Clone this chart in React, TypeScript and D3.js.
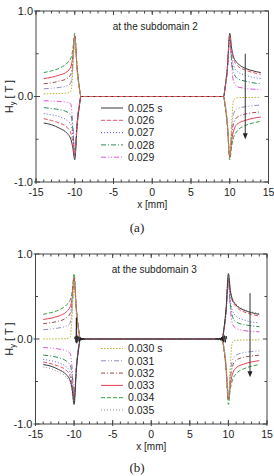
import React from "react";
import * as d3 from "d3";

const FONT = "'Liberation Sans', Arial, Helvetica, sans-serif";

// shared x sampling for the left edge (-14..-9.2) and the right edge (9.2..14)
const xLeft = [-14, -13, -12, -11, -10.5, -10.25, -10, -9.7, -9.4, -9.2];
const xRight = [9.2, 9.4, 9.7, 10, 10.25, 10.5, 11, 12, 13, 14];

const times = ["0.025", "0.026", "0.027", "0.028", "0.029", "0.030", "0.031", "0.032", "0.033", "0.034", "0.035"];
const colors = ["#3a3a3a", "#e8505a", "#5c5ce0", "#2e8b57", "#e050e0", "#b8b030", "#8c8cc0", "#a04848", "#e84050", "#30a040", "#909090"];
const dashes = ["", "4,2", "1,2", "5,2,1,2", "5,2,1,2,1,2", "1.5,1.5", "5,2,1,2,1,2", "4,2,1,2", "", "4,2", "1,2"];

// panel (a) values: left edge / right edge for 0.025 .. 0.034
const leftA = [
  [-0.31, -0.33, -0.37, -0.43, -0.5, -0.6, -0.74, -0.35, -0.11, 0],
  [-0.26, -0.28, -0.31, -0.36, -0.43, -0.53, -0.71, -0.34, -0.1, 0],
  [-0.2, -0.214, -0.236, -0.28, -0.33, -0.45, -0.7, -0.33, -0.1, 0],
  [-0.13, -0.14, -0.153, -0.18, -0.22, -0.38, -0.69, -0.32, -0.09, 0],
  [-0.05, -0.053, -0.058, -0.068, -0.09, -0.33, -0.68, -0.3, -0.08, 0],
  [0.03, 0.032, 0.035, 0.04, 0.06, 0.3, 0.68, 0.3, 0.08, 0],
  [0.09, 0.096, 0.106, 0.125, 0.16, 0.35, 0.7, 0.32, 0.09, 0],
  [0.15, 0.16, 0.18, 0.21, 0.26, 0.4, 0.7, 0.33, 0.1, 0],
  [0.21, 0.225, 0.25, 0.29, 0.35, 0.47, 0.71, 0.34, 0.1, 0],
  [0.28, 0.3, 0.33, 0.39, 0.45, 0.55, 0.74, 0.35, 0.11, 0],
];
const rightA = [
  [0, 0.11, 0.35, 0.74, 0.56, 0.46, 0.39, 0.33, 0.3, 0.28],
  [0, 0.1, 0.34, 0.72, 0.53, 0.43, 0.36, 0.31, 0.28, 0.26],
  [0, 0.1, 0.33, 0.71, 0.47, 0.36, 0.29, 0.25, 0.225, 0.21],
  [0, 0.1, 0.33, 0.7, 0.42, 0.28, 0.21, 0.18, 0.16, 0.15],
  [0, 0.09, 0.31, 0.69, 0.36, 0.17, 0.115, 0.095, 0.085, 0.08],
  [0, -0.08, -0.3, -0.68, -0.3, -0.04, -0.015, -0.012, -0.011, -0.01],
  [0, -0.09, -0.32, -0.69, -0.38, -0.2, -0.14, -0.12, -0.107, -0.1],
  [0, -0.1, -0.33, -0.7, -0.45, -0.31, -0.24, -0.205, -0.19, -0.18],
  [0, -0.1, -0.34, -0.71, -0.52, -0.4, -0.32, -0.28, -0.255, -0.24],
  [0, -0.11, -0.35, -0.74, -0.58, -0.48, -0.4, -0.34, -0.31, -0.29],
];

// panel (b) values: 0.025 .. 0.035
const leftB = [
  [-0.3, -0.32, -0.36, -0.42, -0.49, -0.59, -0.77, -0.36, -0.11, 0],
  [-0.27, -0.29, -0.32, -0.37, -0.44, -0.54, -0.72, -0.34, -0.1, 0],
  [-0.24, -0.255, -0.28, -0.33, -0.39, -0.5, -0.7, -0.33, -0.1, 0],
  [-0.19, -0.2, -0.22, -0.26, -0.31, -0.43, -0.7, -0.33, -0.09, 0],
  [-0.1, -0.107, -0.118, -0.14, -0.17, -0.35, -0.69, -0.31, -0.09, 0],
  [0.0, 0.0, 0.002, 0.005, 0.02, 0.28, 0.68, 0.3, 0.08, 0],
  [0.11, 0.117, 0.13, 0.153, 0.19, 0.37, 0.7, 0.32, 0.09, 0],
  [0.18, 0.193, 0.21, 0.25, 0.3, 0.43, 0.71, 0.33, 0.1, 0],
  [0.23, 0.245, 0.27, 0.32, 0.38, 0.49, 0.72, 0.34, 0.1, 0],
  [0.29, 0.31, 0.34, 0.4, 0.46, 0.56, 0.77, 0.36, 0.11, 0],
  [-0.33, -0.35, -0.39, -0.45, -0.52, -0.62, -0.76, -0.35, -0.11, 0],
];
const rightB = [
  [0, 0.11, 0.36, 0.77, 0.57, 0.47, 0.4, 0.34, 0.31, 0.29],
  [0, 0.1, 0.34, 0.72, 0.55, 0.45, 0.38, 0.32, 0.29, 0.27],
  [0, 0.1, 0.33, 0.71, 0.45, 0.34, 0.27, 0.225, 0.2, 0.19],
  [0, 0.1, 0.33, 0.7, 0.41, 0.27, 0.2, 0.17, 0.155, 0.145],
  [0, 0.09, 0.31, 0.69, 0.36, 0.18, 0.125, 0.1, 0.09, 0.086],
  [0, -0.08, -0.3, -0.68, -0.3, -0.04, -0.015, -0.012, -0.011, -0.01],
  [0, -0.09, -0.32, -0.69, -0.42, -0.26, -0.19, -0.16, -0.148, -0.14],
  [0, -0.1, -0.33, -0.7, -0.46, -0.33, -0.25, -0.215, -0.2, -0.19],
  [0, -0.1, -0.34, -0.71, -0.54, -0.42, -0.34, -0.295, -0.27, -0.255],
  [0, -0.11, -0.36, -0.77, -0.59, -0.49, -0.41, -0.35, -0.32, -0.3],
  [0, 0.11, 0.35, 0.76, 0.58, 0.48, 0.41, 0.35, 0.32, 0.3],
];

// small black numerical noise near the gap edges in panel (b)
const noiseLeftX = [-9.95, -9.85, -9.75, -9.7, -9.65, -9.6, -9.5, -9.4, -9.3, -9.2, -9.1, -9.0, -8.9, -8.8, -8.7, -8.6];
const noiseLeftY = [0, 0.03, -0.04, 0.25, -0.05, 0.04, -0.03, 0.03, -0.025, 0.02, -0.015, 0.012, -0.01, 0.008, -0.004, 0];
const noiseRightX = [8.3, 8.5, 8.7, 8.9, 9.0, 9.1, 9.2, 9.3, 9.4, 9.5, 9.6, 9.7, 9.8];
const noiseRightY = [0, 0.004, -0.008, 0.012, -0.016, 0.022, -0.025, 0.03, -0.035, 0.04, -0.04, 0.035, 0];

const legendA = [0, 1, 2, 3, 4];
const legendB = [5, 6, 7, 8, 9, 10];

const xMajor = [-15, -10, -5, 0, 5, 10, 15];
const xMinor = d3.range(-15, 15.01, 1);
const yMajor = [-1, 0, 1];
const yMinor = [-0.5, 0.5];

type PanelProps = {
  left: number; right: number; top: number; bottom: number;
  leftData: number[][]; rightData: number[][]; order: number[];
  legend: number[]; legendTop: number; title: string;
  arrowX: number; arrowY0: number; arrowY1: number; noise?: boolean;
  caption: string; captionY: number;
};

function Panel(p: PanelProps) {
  const xs = d3.scaleLinear().domain([-15, 15]).range([p.left, p.right]);
  const ys = d3.scaleLinear().domain([-1, 1]).range([p.bottom, p.top]);
  const line = d3.line<[number, number]>().x((d) => xs(d[0])).y((d) => ys(d[1])).curve(d3.curveMonotoneX);
  const lin = d3.line<[number, number]>().x((d) => xs(d[0])).y((d) => ys(d[1]));
  const cx = (p.left + p.right) / 2;
  const ax = xs(p.arrowX);
  const ay0 = ys(p.arrowY0);
  const ay1 = ys(p.arrowY1);
  return (
    <g>
      {p.order.map((i) => {
        const pts: [number, number][] = [
          ...xLeft.map((x, k) => [x, p.leftData[i][k]] as [number, number]),
          ...xRight.map((x, k) => [x, p.rightData[i][k]] as [number, number]),
        ];
        return (
          <path key={i} d={line(pts) || ""} fill="none" stroke={colors[i]} strokeWidth={1}
            strokeDasharray={dashes[i] || undefined} />
        );
      })}
      {p.noise && (
        <g>
          <path d={lin(noiseLeftX.map((x, k) => [x, noiseLeftY[k]] as [number, number])) || ""} fill="none" stroke="#111" strokeWidth={0.8} />
          <path d={lin(noiseRightX.map((x, k) => [x, noiseRightY[k]] as [number, number])) || ""} fill="none" stroke="#111" strokeWidth={0.8} />
        </g>
      )}
      {/* arrow */}
      <line x1={ax} x2={ax} y1={ay0} y2={ay1 - 5} stroke="#333" strokeWidth={1} />
      <path d={`M${ax - 2.5},${ay1 - 6} L${ax + 2.5},${ay1 - 6} L${ax},${ay1} Z`} fill="#222" />
      {/* frame */}
      <rect x={p.left} y={p.top} width={p.right - p.left} height={p.bottom - p.top} fill="none" stroke="#444" strokeWidth={1} />
      {xMinor.map((v) => (
        <g key={"xm" + v}>
          <line x1={xs(v)} x2={xs(v)} y1={p.bottom} y2={p.bottom - 2.5} stroke="#444" />
          <line x1={xs(v)} x2={xs(v)} y1={p.top} y2={p.top + 2.5} stroke="#444" />
        </g>
      ))}
      {xMajor.map((v) => (
        <g key={"xM" + v}>
          <line x1={xs(v)} x2={xs(v)} y1={p.bottom + 2} y2={p.bottom - 4} stroke="#444" />
          <line x1={xs(v)} x2={xs(v)} y1={p.top} y2={p.top + 4} stroke="#444" />
          <text x={xs(v)} y={p.bottom + 14} textAnchor="middle" fontSize={10.5} fontFamily={FONT} fill="#222">{v}</text>
        </g>
      ))}
      {yMinor.map((v) => (
        <g key={"ym" + v}>
          <line x1={p.left} x2={p.left + 2.5} y1={ys(v)} y2={ys(v)} stroke="#444" />
          <line x1={p.right} x2={p.right - 2.5} y1={ys(v)} y2={ys(v)} stroke="#444" />
        </g>
      ))}
      {yMajor.map((v) => (
        <g key={"yM" + v}>
          <line x1={p.left - 2} x2={p.left + 4} y1={ys(v)} y2={ys(v)} stroke="#444" />
          <line x1={p.right} x2={p.right - 4} y1={ys(v)} y2={ys(v)} stroke="#444" />
          <text x={p.left - 3} y={ys(v)} dy="0.36em" textAnchor="end" fontSize={11} fontFamily={FONT} fill="#222">{v.toFixed(1)}</text>
        </g>
      ))}
      {/* axis titles */}
      <text x={cx} y={p.bottom + 25.5} textAnchor="middle" fontSize={10} fontFamily={FONT} fill="#222">x [mm]</text>
      <text transform={`translate(13,${ys(0)}) rotate(-90)`} textAnchor="middle" fontSize={11} fontFamily={FONT} fill="#222">
        H<tspan fontSize={7.5} dy={2}>y</tspan><tspan dy={-2}> [ T ]</tspan>
      </text>
      <text x={cx + 3} y={p.top + 19} textAnchor="middle" fontSize={10} fontFamily={FONT} fill="#222">{p.title}</text>
      {/* legend */}
      {p.legend.map((i, k) => {
        const y = p.legendTop + k * 12.3;
        return (
          <g key={"lg" + i}>
            <line x1={101} x2={123} y1={y} y2={y} stroke={colors[i]} strokeWidth={1} strokeDasharray={dashes[i] || undefined} />
            <text x={128} y={y} dy="0.36em" fontSize={10.5} fontFamily={FONT} fill="#222">{times[i] + (k === 0 ? " s" : "")}</text>
          </g>
        );
      })}
      <text x={137} y={p.captionY} textAnchor="middle" fontSize={13} fontFamily="'Liberation Serif', 'Times New Roman', serif" fill="#222">{p.caption}</text>
    </g>
  );
}

export default function App() {
  return (
    <svg width={274} height={476} style={{ position: "absolute", left: 0, top: 0, background: "#fff" }}>
      <Panel left={36} right={268.5} top={11} bottom={182} leftData={leftA} rightData={rightA}
        order={[9, 8, 7, 6, 5, 4, 3, 2, 0, 1]} legend={legendA} legendTop={108}
        title="at the subdomain 2" arrowX={12} arrowY0={0.5} arrowY1={-0.5} caption="(a)" captionY={232} />
      <Panel left={35.5} right={267} top={254} bottom={424} leftData={leftB} rightData={rightB}
        order={[10, 9, 8, 7, 6, 5, 4, 3, 2, 1, 0]} legend={legendB} legendTop={348.5}
        title="at the subdomain 3" arrowX={12.8} arrowY0={0.54} arrowY1={-0.45} noise caption="(b)" captionY={472} />
    </svg>
  );
}
